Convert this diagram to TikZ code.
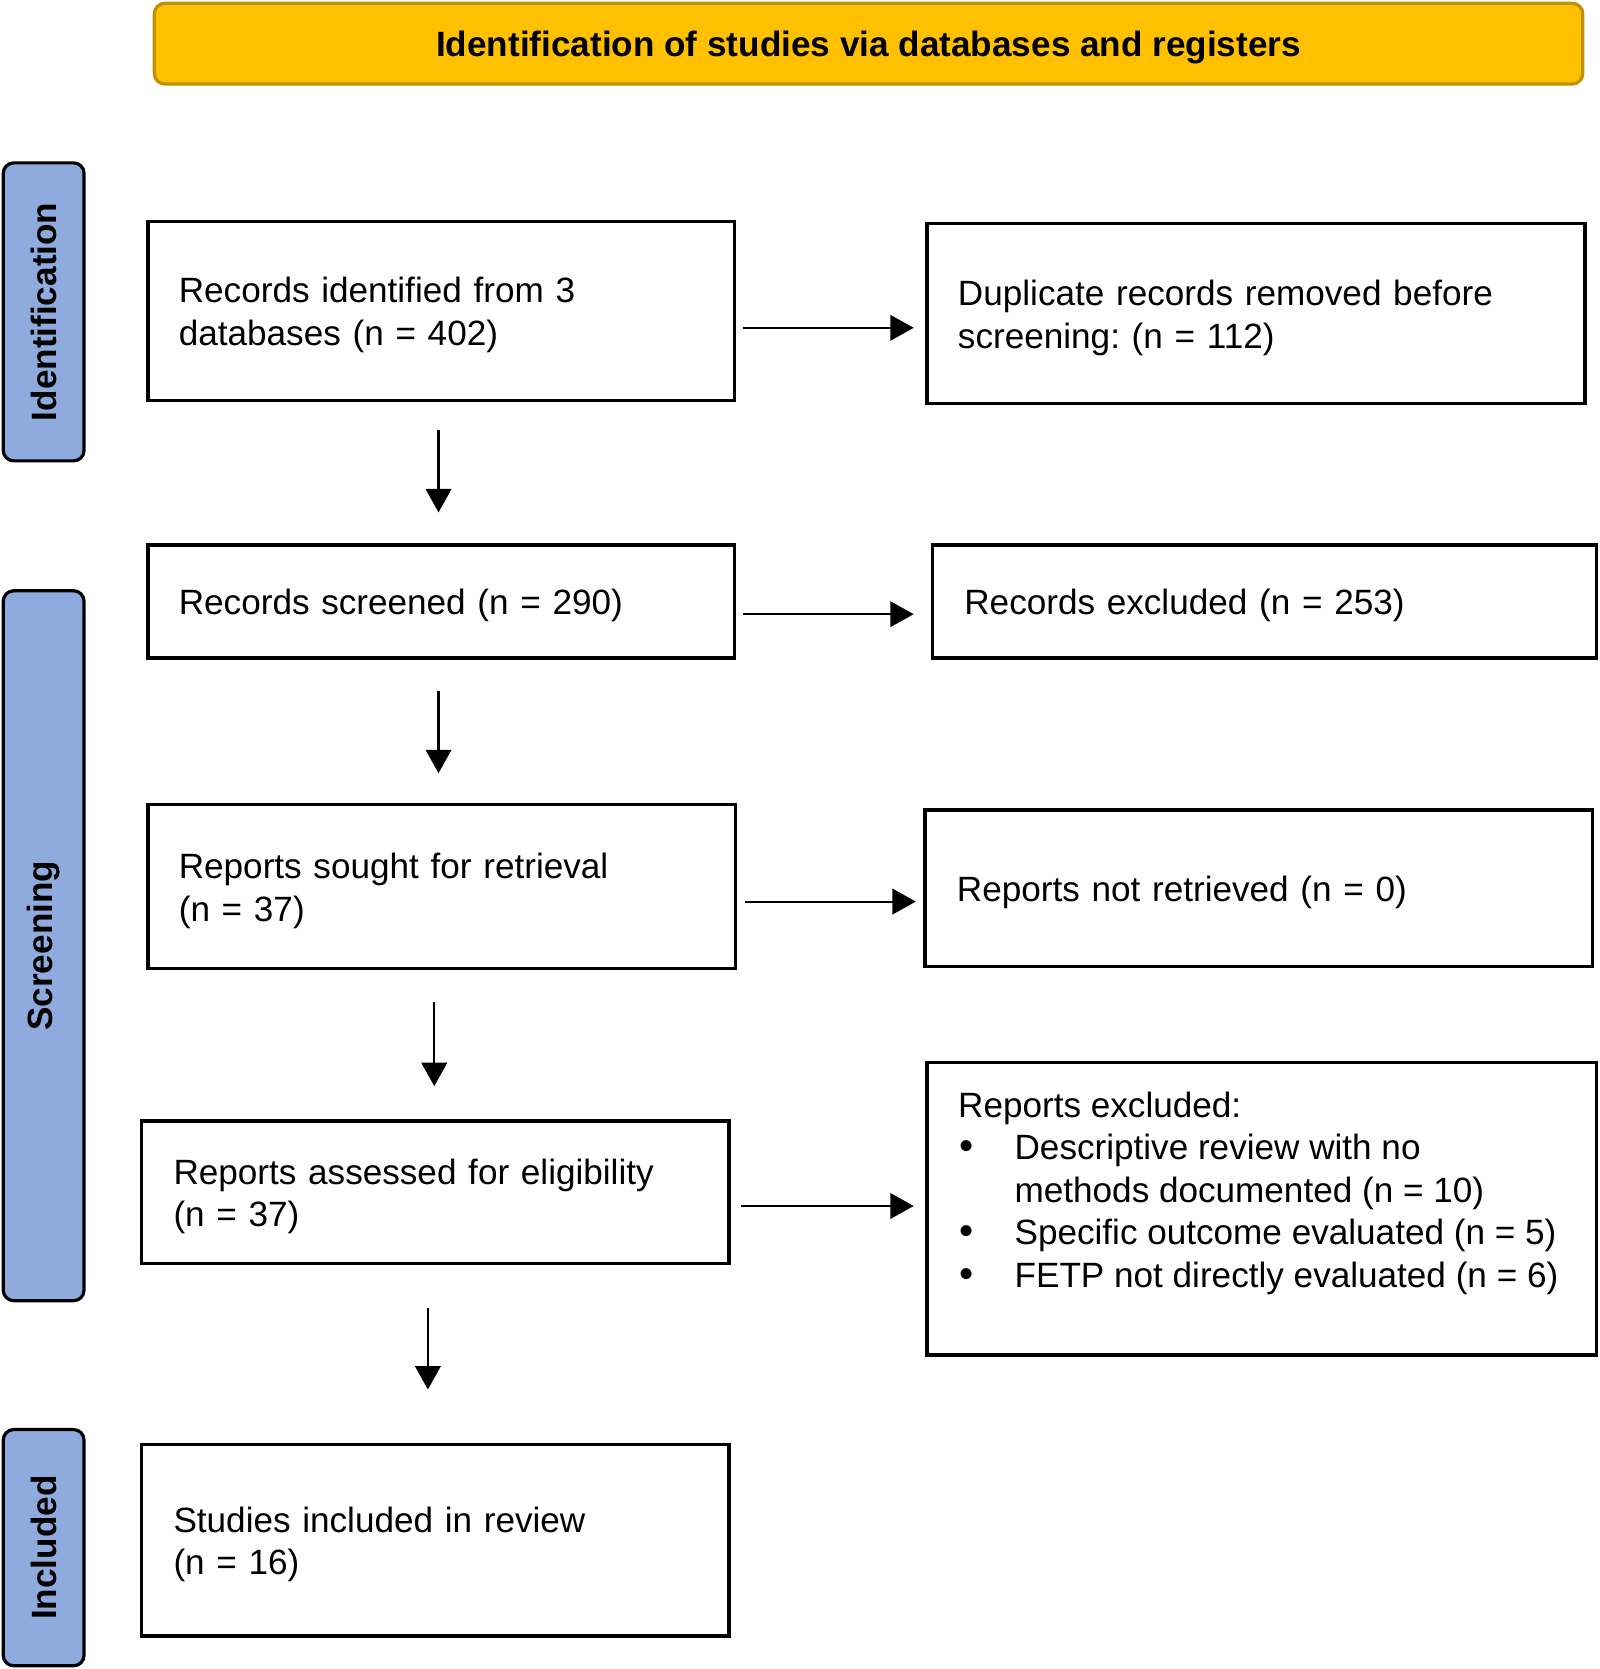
\documentclass[tikz,border=0pt]{standalone}
\usepackage{fontspec}
\setmainfont{Liberation Sans}
\usetikzlibrary{arrows.meta}
\frenchspacing
\definecolor{bannerfill}{HTML}{FFC000}
\definecolor{bannerdraw}{HTML}{BF9000}
\definecolor{sidefill}{HTML}{8FAADC}
\newcommand\mainfs{\fontsize{33}{40}\selectfont}
\newcommand\topstrut{\rule{0pt}{32pt}}
\tikzset{
  box/.style={draw, line width=3.2pt, align=left, inner xsep=29pt, inner ysep=0pt, font=\mainfs,
              execute at begin node=\topstrut},
  sidebox/.style={draw, line width=3pt, fill=sidefill, rounded corners=10pt, rotate=90, font=\mainfs\bfseries, inner sep=0pt},
  arr/.style={line width=2pt, -{Triangle[length=22pt, width=24pt]}},
}
\begin{document}
\begin{tikzpicture}[x=1pt, y=1pt]
\useasboundingbox (0,0) rectangle (1503,-1568);
% banner
\node[draw=bannerdraw, line width=3pt, fill=bannerfill, rounded corners=10pt,
      minimum width=1342pt, minimum height=76pt, inner sep=0pt, font=\mainfs\bfseries]
      (banner) at (816,-41) {\rule{0pt}{32pt}Identification of studies via databases and registers};
% side labels
\node[sidebox, minimum width=280pt, minimum height=76pt] (sid) at (41,-293) {Identification};
\node[sidebox, minimum width=667pt, minimum height=76pt] (sscr) at (41,-888.5) {Screening};
\node[sidebox, minimum width=222pt, minimum height=76pt] (sinc) at (41,-1454) {Included};
% main boxes
\node[box, text width=493pt, minimum height=168pt] (b1) at (414.5,-292) {Records identified from 3\\databases (n = 402)};
\node[box, text width=560pt, minimum height=169pt] (b2) at (1180,-294.5) {Duplicate records removed before\\screening: (n = 112)};
\node[box, text width=493pt, minimum height=106pt] (b3) at (414.5,-565) {Records screened (n = 290)};
\node[box, inner xsep=30pt, text width=564pt, minimum height=106pt] (b4) at (1188,-565) {Records excluded (n = 253)};
\node[box, text width=494pt, minimum height=154pt] (b5) at (415,-833) {Reports sought for retrieval\\(n = 37)};
\node[box, inner xsep=30pt, text width=567pt, minimum height=147pt] (b6) at (1182.5,-834.5) {Reports not retrieved (n = 0)};
\node[box, inner xsep=30pt, text width=492pt, minimum height=134pt] (b7) at (409,-1120) {Reports assessed for eligibility\\(n = 37)};
\node[draw, line width=3.2pt, minimum width=629pt, minimum height=275pt] (b8) at (1185.5,-1135.5) {};
\node[anchor=west, align=left, inner sep=0pt, font=\mainfs] (b8t) at (900,-1121)
  {Reports excluded:\\
   \makebox[53pt][l]{\hspace{1pt}\scalebox{1.15}{•}}Descriptive review with no\\
   \hspace*{53pt}methods documented (n = 10)\\
   \makebox[53pt][l]{\hspace{1pt}\scalebox{1.15}{•}}Specific outcome evaluated (n = 5)\\
   \makebox[53pt][l]{\hspace{1pt}\scalebox{1.15}{•}}FETP not directly evaluated (n = 6)};
\node[box, inner xsep=30pt, text width=492pt, minimum height=180pt] (b9) at (409,-1447) {Studies included in review\\(n = 16)};
% vertical arrows
\draw[arr, shorten <=26pt, shorten >=29pt] ([xshift=-2.5pt]b1.south) -- ([xshift=-2.5pt]b1.south |- b3.north);
\draw[arr, shorten <=30pt, shorten >=28pt] ([xshift=-2.5pt]b3.south) -- ([xshift=-2.5pt]b3.south |- b5.north);
\draw[arr, shorten <=30pt, shorten >=31pt] ([xshift=-1pt]b7.north |- b5.south) -- ([xshift=-1pt]b7.north);
\draw[arr, shorten <=40pt, shorten >=50pt] ([xshift=-7pt]b7.south) -- ([xshift=-7pt]b9.north);
% horizontal arrows
\draw[arr, shorten <=6pt, shorten >=11pt] ([yshift=-16pt]b1.east) -- ([yshift=-16pt]b1.east -| b2.west);
\draw[arr, shorten <=6pt, shorten >=16pt] ([yshift=-12pt]b3.east) -- ([yshift=-12pt]b3.east -| b4.west);
\draw[arr, shorten <=7pt, shorten >=7pt] ([yshift=-14pt]b5.east) -- ([yshift=-14pt]b5.east -| b6.west);
\draw[arr, shorten <=10pt, shorten >=11pt] ([yshift=-13pt]b7.east) -- ([yshift=-13pt]b7.east -| b8.west);
\end{tikzpicture}
\end{document}
